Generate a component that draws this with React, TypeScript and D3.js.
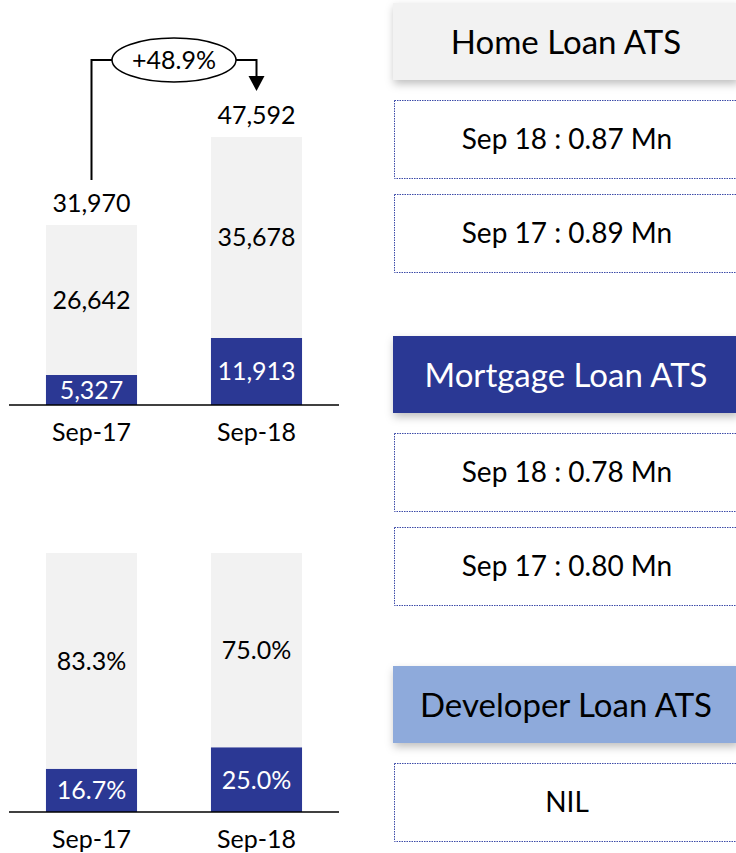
import React from 'react';
import * as d3 from 'd3';

// chart data
const categories = ['Sep-17', 'Sep-18'];
const mortgageCount = [5327, 11913];
const homeCount = [26642, 35678];
const totalCount = [31970, 47592];
const mortgageShare = [16.7, 25.0];
const homeShare = [83.3, 75.0];
const growthLabel = '+48.9%';

// right side panels
const panelTitles = ['Home Loan ATS', 'Mortgage Loan ATS', 'Developer Loan ATS'];
const panelLines = [
  ['Sep 18 : 0.87 Mn', 'Sep 17 : 0.89 Mn'],
  ['Sep 18 : 0.78 Mn', 'Sep 17 : 0.80 Mn'],
  ['NIL'],
];
const panelFill = ['#f2f2f2', '#2b3894', '#8eaadb'];
const panelText = ['#000', '#fff', '#000'];

const BLUE = '#2b3894';
const GRAY = '#f2f2f2';
const FONT = 'Lato, "Open Sans", sans-serif';

const W = 736, H = 853;

function StackedBars({ y, blue, gray, fmt, baseline }) {
  const x = d3.scaleBand().domain(categories).range([9, 339]).paddingInner(0.448).paddingOuter(0.224);
  const rows = categories.map((c, i) => ({ cat: c, blue: blue[i], gray: gray[i] }));
  const series = d3.stack().keys(['blue', 'gray'])(rows);
  return (
    <g>
      {series.map(s => s.map((d, i) => (
        <rect key={s.key + i} x={x(categories[i])} width={x.bandwidth()}
          y={y(d[1])} height={y(d[0]) - y(d[1])}
          fill={s.key === 'blue' ? BLUE : GRAY} />
      )))}
      {series.map(s => s.map((d, i) => (
        <text key={'t' + s.key + i} x={x(categories[i]) + x.bandwidth() / 2}
          y={(y(d[0]) + y(d[1])) / 2} dy="0.36em" textAnchor="middle"
          fontSize={25} fill={s.key === 'blue' ? '#fff' : '#000'}>
          {fmt(s.key === 'blue' ? blue[i] : gray[i])}
        </text>
      )))}
      <line x1={9} x2={339} y1={baseline} y2={baseline} stroke="#000" strokeWidth={1.5} />
      {categories.map(c => (
        <text key={c} x={x(c) + x.bandwidth() / 2} y={baseline + 27} dy="0.36em"
          textAnchor="middle" fontSize={25}>{c}</text>
      ))}
    </g>
  );
}

function TopChart() {
  const y = d3.scaleLinear().domain([0, 50000]).range([405, 123.5]);
  const x = d3.scaleBand().domain(categories).range([9, 339]).paddingInner(0.448).paddingOuter(0.224);
  const fmt = d3.format(',');
  const cx = categories.map(c => x(c) + x.bandwidth() / 2);
  const bracketY = 60;
  const mid = (cx[0] + cx[1]) / 2;
  const rx = 62;
  const tipY = y(totalCount[1]) - 46;
  return (
    <g>
      <StackedBars y={y} blue={mortgageCount} gray={homeCount} fmt={fmt} baseline={405} />
      {totalCount.map((t, i) => (
        <text key={i} x={cx[i]} y={y(t) - 22} dy="0.36em" textAnchor="middle" fontSize={25}>
          {fmt(t)}
        </text>
      ))}
      <path d={`M${cx[0]},${y(totalCount[0]) - 45}V${bracketY}H${mid - rx}`} fill="none" stroke="#000" strokeWidth={2} />
      <path d={`M${mid + rx},${bracketY}H${cx[1]}V${tipY - 14}`} fill="none" stroke="#000" strokeWidth={2} />
      <path d={`M${cx[1] - 8},${tipY - 15}L${cx[1] + 8},${tipY - 15}L${cx[1]},${tipY}Z`} fill="#000" />
      <ellipse cx={mid} cy={bracketY} rx={rx} ry={22} fill="#fff" stroke="#000" strokeWidth={1.5} />
      <text x={mid} y={bracketY} dy="0.36em" textAnchor="middle" fontSize={25}>{growthLabel}</text>
    </g>
  );
}

function BottomChart() {
  const y = d3.scaleLinear().domain([0, 100]).range([812, 553]);
  const fmt = (v: number) => d3.format('.1f')(v) + '%';
  return <StackedBars y={y} blue={mortgageShare} gray={homeShare} fmt={fmt} baseline={812} />;
}

function Panels() {
  const headerTop = [3, 336, 666];
  const boxX = 394, boxW = 344, boxH = 78;
  return (
    <g>
      {panelTitles.map((t, i) => (
        <g key={t}>
          <rect x={393} y={headerTop[i]} width={345} height={77} fill={panelFill[i]} filter="url(#shadow)" />
          <text x={566} y={headerTop[i] + 39} dy="0.36em" textAnchor="middle" fontSize={33}
            fill={panelText[i]}>{t}</text>
          {panelLines[i].map((l, j) => {
            const by = headerTop[i] + 97 + j * 94;
            return (
              <g key={l}>
                <rect x={boxX + 0.5} y={by + 0.5} width={boxW} height={boxH} fill="#fff"
                  stroke="#3c4aa8" strokeWidth={1} strokeDasharray="1.5,1" />
                <text x={567} y={by + boxH / 2} dy="0.36em" textAnchor="middle" fontSize={28}>{l}</text>
              </g>
            );
          })}
        </g>
      ))}
    </g>
  );
}

export default function App() {
  return (
    <svg width={W} height={H} style={{ position: 'absolute', left: 0, top: 0, background: '#fff' }}
      fontFamily={FONT}>
      <defs>
        <filter id="shadow" x="-10%" y="-20%" width="130%" height="160%">
          <feDropShadow dx={1} dy={4} stdDeviation={4} floodColor="#000" floodOpacity={0.25} />
        </filter>
      </defs>
      <TopChart />
      <BottomChart />
      <Panels />
    </svg>
  );
}
